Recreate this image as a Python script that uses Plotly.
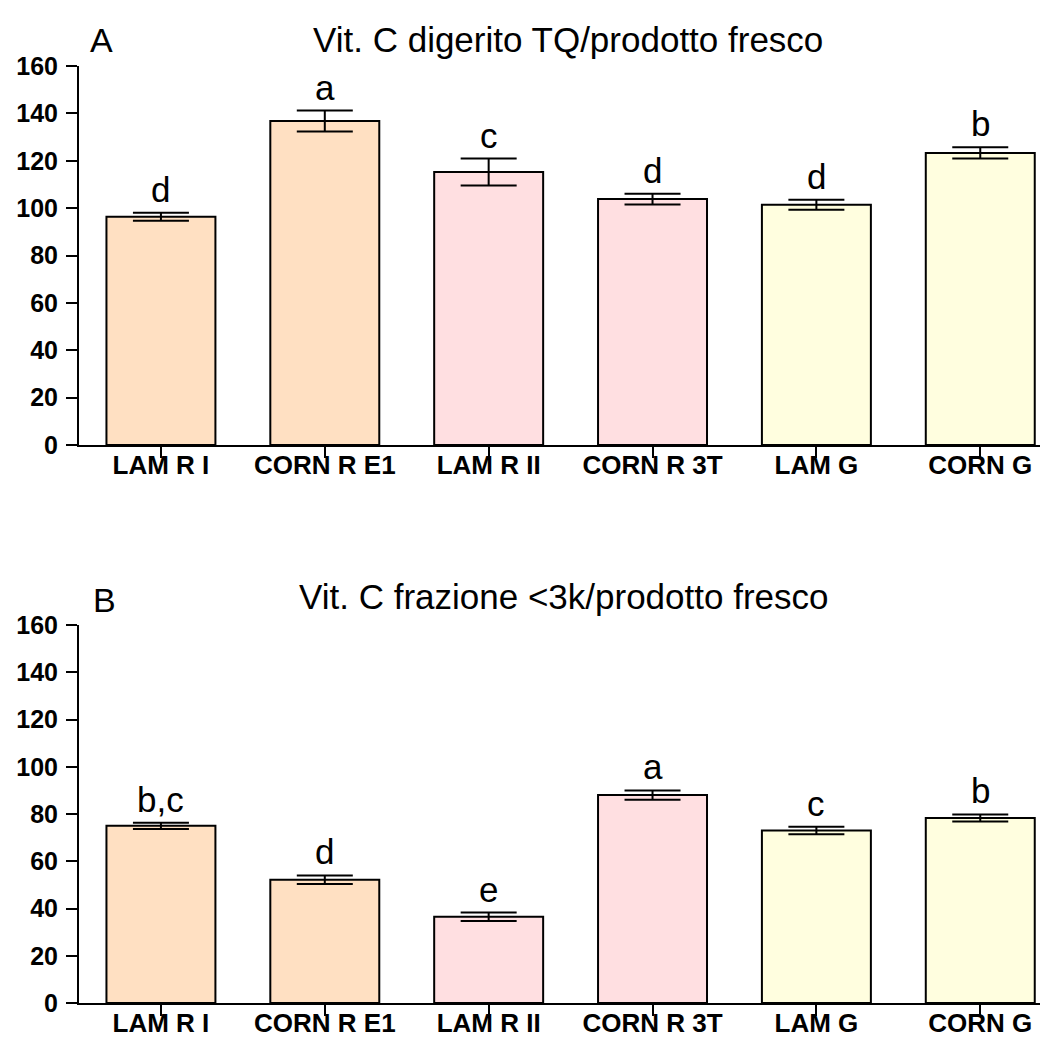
import plotly.graph_objects as go

categories = ["LAM R I", "CORN R E1", "LAM R II", "CORN R 3T", "LAM G", "CORN G"]
colors = ["#FFE0C2", "#FFE0C2", "#FFDFE1", "#FFDFE1", "#FFFEDF", "#FFFEDF"]

vals_A = [96.4, 136.8, 115.2, 103.8, 101.4, 123.3]
err_A = [1.7, 4.4, 5.7, 2.3, 2.1, 2.4]
letters_A = ["d", "a", "c", "d", "d", "b"]

vals_B = [75.0, 52.2, 36.5, 88.0, 73.0, 78.3]
err_B = [1.3, 1.8, 1.8, 2.0, 1.6, 1.5]
letters_B = ["b,c", "d", "e", "a", "c", "b"]

title_A = "Vit. C digerito TQ/prodotto fresco"
title_B = "Vit. C frazione &lt;3k/prodotto fresco"
yticks = [0, 20, 40, 60, 80, 100, 120, 140, 160]

FONT = "Liberation Sans, Arial, sans-serif"
W, H = 1048, 1037
L, R, T, B = 71, 2, 58, 42
PW, PH = W - L - R, H - T - B


def px(x):
    return (x - L) / PW


def py(y):
    return (H - B - y) / PH


fig = go.Figure()
for i, (vals, errs) in enumerate([(vals_A, err_A), (vals_B, err_B)]):
    fig.add_trace(go.Bar(
        x=categories, y=vals,
        marker=dict(color=colors, line=dict(color="black", width=2)),
        width=0.665,
        error_y=dict(type="data", array=errs, visible=True, color="black",
                     thickness=2, width=28),
        xaxis="x" if i == 0 else "x2",
        yaxis="y" if i == 0 else "y2",
        showlegend=False,
    ))

for vals, errs, letters, xa, ya in [(vals_A, err_A, letters_A, "x", "y"),
                                    (vals_B, err_B, letters_B, "x2", "y2")]:
    for c, v, e, t in zip(categories, vals, errs, letters):
        fig.add_annotation(x=c, y=v + e, xref=xa, yref=ya, text=t, showarrow=False,
                           yanchor="bottom", yshift=2,
                           font=dict(family=FONT, size=35, color="black"))

fig.add_annotation(x=px(93), y=py(32), xref="paper", yref="paper", text="A",
                   showarrow=False, xanchor="center", yanchor="middle",
                   font=dict(family=FONT, size=34, color="black"))
fig.add_annotation(x=px(96), y=py(592), xref="paper", yref="paper", text="B",
                   showarrow=False, xanchor="center", yanchor="middle",
                   font=dict(family=FONT, size=34, color="black"))
fig.add_annotation(x=px(560), y=py(32), xref="paper", yref="paper", text=title_A,
                   showarrow=False, xanchor="center", yanchor="middle",
                   font=dict(family=FONT, size=35, color="black"))
fig.add_annotation(x=px(556), y=py(588), xref="paper", yref="paper", text=title_B,
                   showarrow=False, xanchor="center", yanchor="middle",
                   font=dict(family=FONT, size=35, color="black"))

xaxis_common = dict(
    range=[-0.5, 5.45], showline=True, linecolor="black", linewidth=2,
    ticks="outside", ticklen=11, tickwidth=2, tickcolor="black",
    ticklabelstandoff=-15, automargin=False,
    tickfont=dict(family=FONT, size=26, color="black", weight="bold"),
    showgrid=False, zeroline=False, fixedrange=True,
)
yaxis_common = dict(
    range=[0, 160], tickvals=yticks, showline=True, linecolor="black", linewidth=2,
    ticks="outside", ticklen=11, tickwidth=2, tickcolor="black",
    ticklabelstandoff=3, automargin=False,
    tickfont=dict(family=FONT, size=25, color="black", weight="bold"),
    showgrid=False, zeroline=False, fixedrange=True,
)

fig.update_layout(
    width=W, height=H,
    margin=dict(l=L, r=R, t=T, b=B),
    plot_bgcolor="white", paper_bgcolor="white",
    bargap=0.335,
    xaxis=dict(domain=[0, 1], anchor="y", **xaxis_common),
    yaxis=dict(domain=[py(437), 1], anchor="x", **yaxis_common),
    xaxis2=dict(domain=[0, 1], anchor="y2", **xaxis_common),
    yaxis2=dict(domain=[0, py(617)], anchor="x2", **yaxis_common),
)

fig.write_html("out.html")
